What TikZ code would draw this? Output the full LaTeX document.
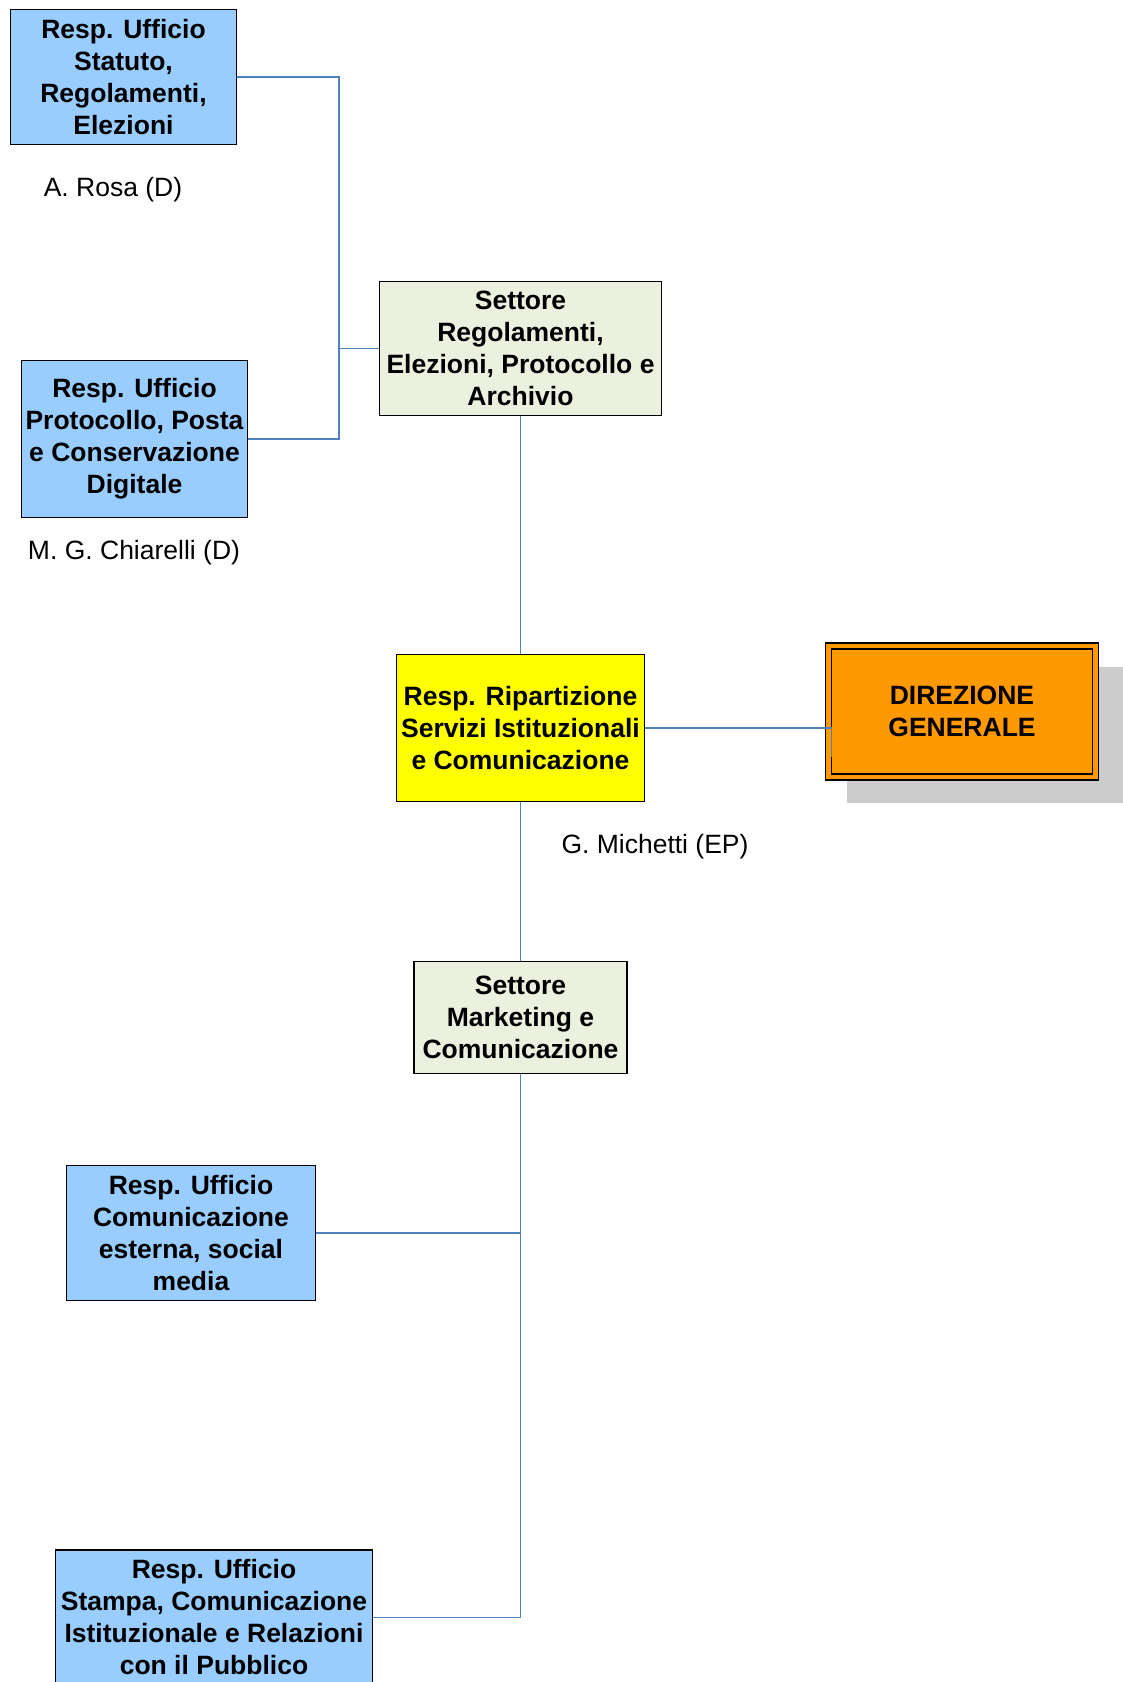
\documentclass[tikz,border=0pt]{standalone}
\usepackage{fontspec}
\setmainfont{Liberation Sans}
\usetikzlibrary{shadows}
\definecolor{uffblue}{HTML}{99CCFF}
\definecolor{settgreen}{HTML}{EBF1DE}
\definecolor{ripyellow}{HTML}{FFFF00}
\definecolor{dirorange}{HTML}{FF9900}
\definecolor{linkblue}{HTML}{4F81BD}
\definecolor{shadowgrey}{HTML}{CCCCCC}

\begin{document}
\begin{tikzpicture}[x=1pt, y=-1pt,
  box/.style = {draw, line width=1.5pt, align=center, inner sep=0pt, font=\bfseries\fontsize{26.5}{32}\selectfont},
  uffbox/.style = {box, fill=uffblue},
  settbox/.style = {box, fill=settgreen},
  conn/.style = {draw=linkblue, line width=1.5pt},
  nome/.style = {font=\fontsize{26.5}{32}\selectfont}]
  \useasboundingbox (0,0) rectangle (1123,1682);
  % uffici del settore regolamenti
  \node[uffbox, minimum width=226pt, minimum height=135pt] (stat) at (123.5,77) {Resp. Ufficio\\Statuto,\\Regolamenti,\\Elezioni};
  \node[nome] (rosa) at (113,190) {A. Rosa (D)};
  \node[uffbox, minimum width=226pt, minimum height=157pt] (proto) at (134.5,439) {Resp. Ufficio\\Protocollo, Posta\\e Conservazione\\Digitale};
  \node[nome] (chiarelli) at (134,553) {M. G. Chiarelli (D)};
  \node[settbox, minimum width=282pt, minimum height=134pt] (settreg) at (520.5,348.5) {Settore\\Regolamenti,\\Elezioni, Protocollo e\\Archivio};
  % ripartizione e direzione
  \node[box, fill=ripyellow, minimum width=248pt, minimum height=147pt] (ripart) at (520.5,728) {Resp. Ripartizione\\Servizi Istituzionali\\e Comunicazione};
  \node[nome] (michetti) at (655,847) {G. Michetti (EP)};
  \node[box, fill=dirorange, double=dirorange, double distance=4.5pt, minimum width=267pt, minimum height=131pt,
        drop shadow={shadow xshift=23pt, shadow yshift=-22.5pt, shadow scale=1.04, fill=shadowgrey, opacity=1}] (dirgen) at (962,711.5) {DIREZIONE\\GENERALE};
  % settore marketing
  \node[settbox, minimum width=213pt, minimum height=112pt] (mark) at (520.5,1017.5) {Settore\\Marketing e\\Comunicazione};
  \node[uffbox, minimum width=249pt, minimum height=135pt] (comest) at (191,1233) {Resp. Ufficio\\Comunicazione\\esterna, social\\media};
  \node[uffbox, minimum width=317pt, minimum height=135pt] (stampa) at (214,1617.5) {Resp. Ufficio\\Stampa, Comunicazione\\Istituzionale e Relazioni\\con il Pubblico};

  \coordinate (bus1) at (339,348.5);
  \coordinate (bus2) at (mark.south |- comest.east);
  \draw[conn] (stat.east) -| (bus1) |- (proto.east);
  \draw[conn] (settreg.west) -- (bus1);
  \draw[conn] (settreg.south) -- (ripart.north);
  \draw[conn] (ripart.south) -- (mark.north);
  \draw[conn] (ripart.east) -- ([xshift=3.5pt]ripart.east -| dirgen.west) -- ++(0,29);
  \draw[conn] (mark.south) |- (stampa.east);
  \draw[conn] (comest.east) -- (bus2);
\end{tikzpicture}
\end{document}
